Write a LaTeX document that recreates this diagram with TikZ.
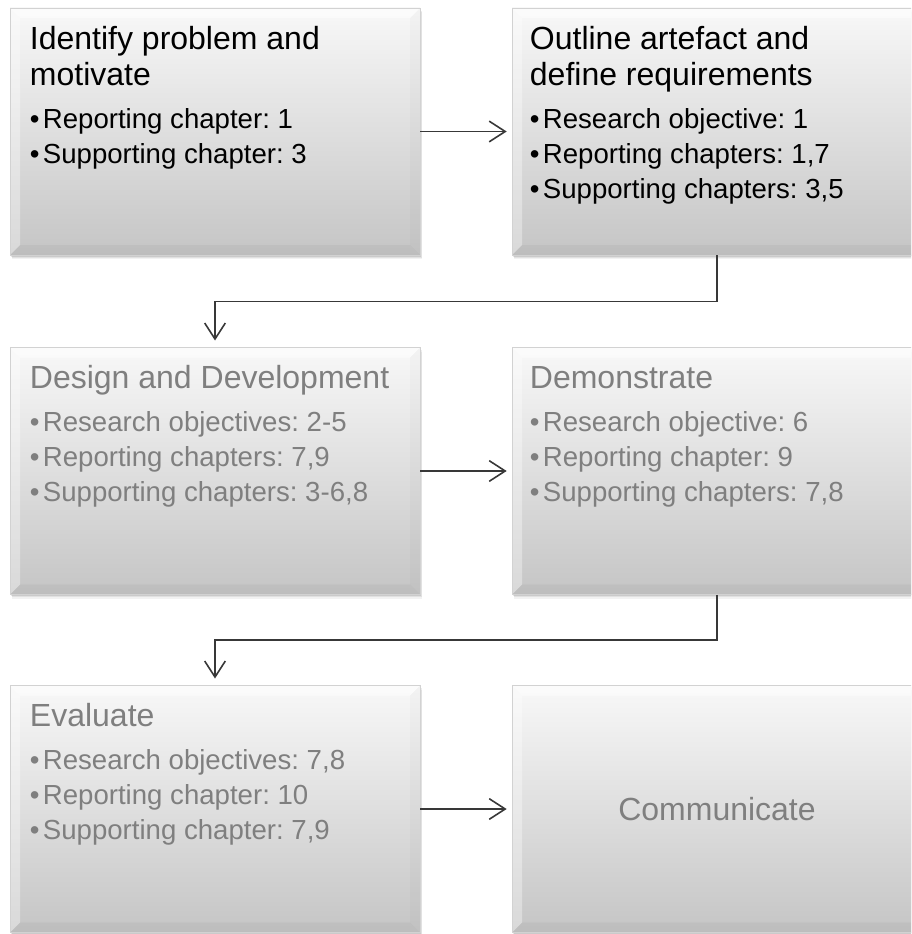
\documentclass[tikz,border=0pt]{standalone}
\usepackage{fontspec}
\setmainfont{Liberation Sans}
\usetikzlibrary{calc,arrows.meta,shadows}

\definecolor{txtgray}{HTML}{7F7F7F}
\definecolor{linegray}{HTML}{383838}
\definecolor{boxtop}{HTML}{F8F8F8}
\definecolor{boxbot}{HTML}{C5C5C5}
\definecolor{boxedge}{HTML}{D2D2D2}

\tikzset{
  stagebox/.style={rectangle, inner sep=0pt,
    minimum width=307.5pt, minimum height=185.25pt,
    top color=boxtop, bottom color=boxbot, draw=boxedge, line width=0.5pt,
    general shadow={shadow xshift=0.6pt, shadow yshift=-1.2pt, fill=black, opacity=0.10},
    general shadow={shadow xshift=1.2pt, shadow yshift=-2.2pt, fill=black, opacity=0.07},
    general shadow={shadow xshift=1.8pt, shadow yshift=-3.2pt, fill=black, opacity=0.05},
    path picture={
      \coordinate (pnw) at (path picture bounding box.north west);
      \coordinate (pne) at (path picture bounding box.north east);
      \coordinate (psw) at (path picture bounding box.south west);
      \coordinate (pse) at (path picture bounding box.south east);
      % bevelled rim: light on top and left, darker on bottom and right
      \fill[white, opacity=0.55] (pnw) -- (pne) -- ($(pne)+(-10,10)$) -- ($(pnw)+(10,10)$) -- cycle;
      \fill[white, opacity=0.35] (pnw) -- ($(pnw)+(10,10)$) -- ($(psw)+(10,-10)$) -- (psw) -- cycle;
      \fill[black, opacity=0.04] (psw) -- ($(psw)+(10,-10)$) -- ($(pse)+(-10,-10)$) -- (pse) -- cycle;
      \fill[black, opacity=0.02] (pne) -- (pse) -- ($(pse)+(-10,-10)$) -- ($(pne)+(-10,10)$) -- cycle;
    }},
  % texts are placed by the baseline of their last line
  headtext/.style={anchor=base west, inner sep=0pt, align=left,
    font=\fontsize{24}{27}\selectfont\frenchspacing},
  itemtext/.style={anchor=base west, inner sep=0pt, align=left,
    font=\fontsize{20.7}{26.25}\selectfont\frenchspacing},
  dimmed/.style={text=txtgray},
  flow/.style={draw=linegray, line width=1.2pt,
    -{Straight Barb[length=12pt, width=15.5pt, line width=1.2pt]}},
}
\newcommand\bul{\hbox to 9.75pt{•\hss}}

\begin{document}
\begin{tikzpicture}[x=0.75pt, y=-0.75pt]
  \useasboundingbox (0,0) rectangle (911,934);
  \clip (0,0) rectangle (911,934);

  % stage boxes
  \node[stagebox] (b1) at (215,131.5) {};
  \node[stagebox] (b2) at (717,131.5) {};
  \node[stagebox] (b3) at (215,471) {};
  \node[stagebox] (b4) at (717,471) {};
  \node[stagebox] (b5) at (215,809) {};
  \node[stagebox] (b6) at (717,809) {};

  % stage texts
  \node[headtext] (t1) at ($(b1.north west)+(20,78)$) {Identify problem and\\motivate};
  \node[itemtext] (i1) at ($(b1.north west)+(20,156)$) {\bul Reporting chapter: 1\\\bul Supporting chapter: 3};

  \node[headtext] (t2) at ($(b2.north west)+(18,78)$) {Outline artefact and\\define requirements};
  \node[itemtext] (i2) at ($(b2.north west)+(18,191)$) {\bul Research objective: 1\\\bul Reporting chapters: 1,7\\\bul Supporting chapters: 3,5};

  \node[headtext, dimmed] (t3) at ($(b3.north west)+(20,41)$) {Design and Development};
  \node[itemtext, dimmed] (i3) at ($(b3.north west)+(20,154)$) {\bul Research objectives: 2-5\\\bul Reporting chapters: 7,9\\\bul Supporting chapters: 3-6,8};

  \node[headtext, dimmed] (t4) at ($(b4.north west)+(18,41)$) {Demonstrate};
  \node[itemtext, dimmed] (i4) at ($(b4.north west)+(18,154)$) {\bul Research objective: 6\\\bul Reporting chapter: 9\\\bul Supporting chapters: 7,8};

  \node[headtext, dimmed] (t5) at ($(b5.north west)+(20,41)$) {Evaluate};
  \node[itemtext, dimmed] (i5) at ($(b5.north west)+(20,154)$) {\bul Research objectives: 7,8\\\bul Reporting chapter: 10\\\bul Supporting chapter: 7,9};

  \node[dimmed, inner sep=0pt, font=\fontsize{24}{27}\selectfont] (t6) at (b6.center) {Communicate};

  % connectors
  \draw[flow, shorten >=3.75pt] (b1.east) -- (b2.west);
  \draw[flow, shorten >=5pt] (b2.south) -- ++(0,46) -| (b3.north);
  \draw[flow, shorten >=3.75pt] (b3.east) -- (b4.west);
  \draw[flow, shorten >=5pt] (b4.south) -- ++(0,45) -| (b5.north);
  \draw[flow, shorten >=3.75pt] (b5.east) -- (b6.west);
\end{tikzpicture}
\end{document}
